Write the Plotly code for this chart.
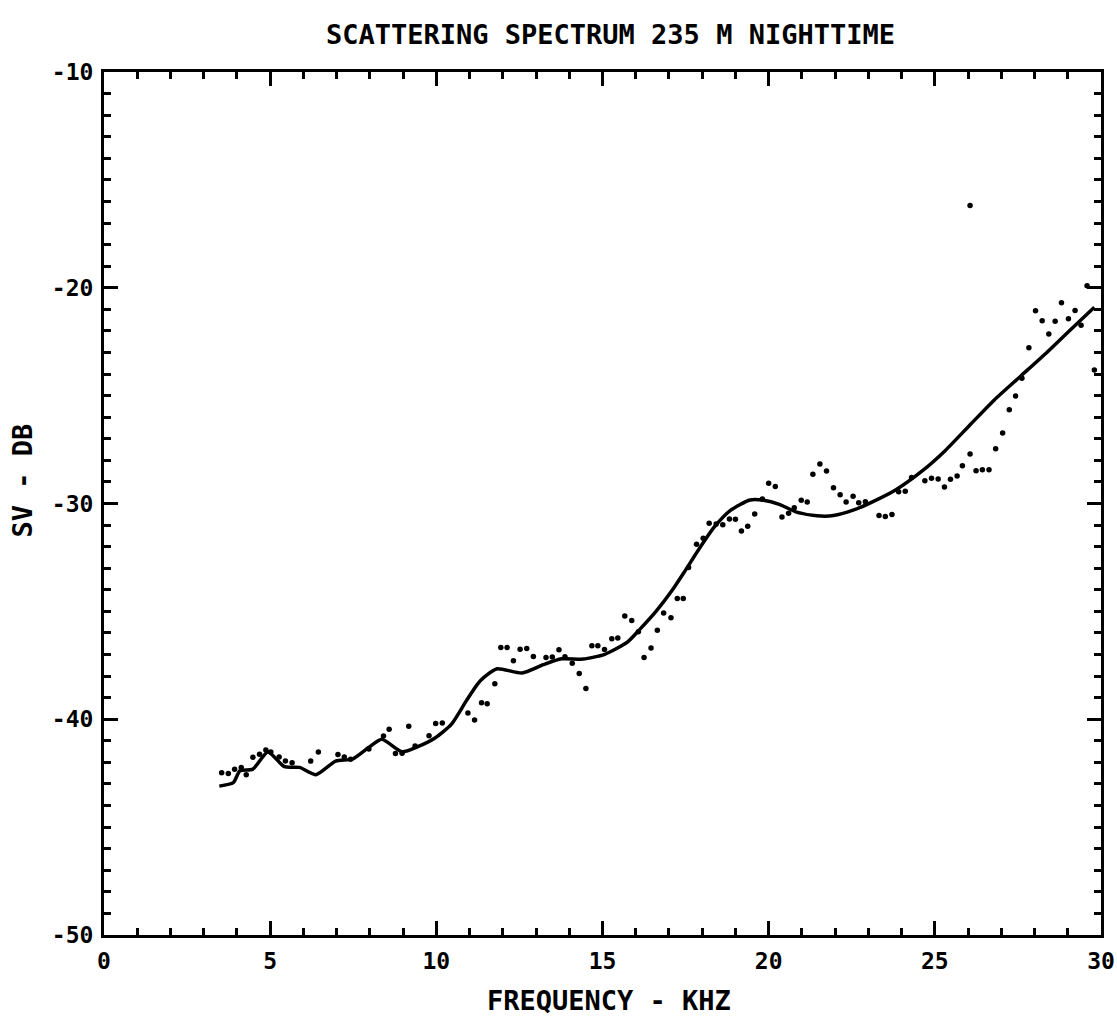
import plotly.graph_objects as go

# Smoothed scattering-strength curve (kHz, dB)
curve_khz = [3.47, 3.89, 4.09, 4.48, 4.93, 5.43, 5.88, 6.38, 6.97, 7.47, 7.97, 8.36,
             8.97, 9.46, 9.96, 10.45, 10.9, 11.24, 11.43, 11.83, 12.58, 13.22, 13.77,
             14.42, 15.05, 15.41, 15.76, 16.10, 16.61, 17.08, 17.48, 17.87, 18.36, 18.85,
             19.44, 19.84, 20.34, 20.84, 21.45, 21.95, 22.54, 23.14, 23.83, 24.62, 25.31,
             26.10, 26.79, 27.58, 28.37, 29.06, 29.8]
curve_db = [-43.10, -42.94, -42.39, -42.31, -41.52, -42.20, -42.23, -42.57, -41.94, -41.85,
            -41.30, -40.93, -41.51, -41.26, -40.87, -40.24, -39.15, -38.37, -38.06, -37.66,
            -37.86, -37.47, -37.20, -37.21, -37.00, -36.73, -36.41, -35.87, -35.00, -34.06,
            -33.13, -32.19, -31.10, -30.32, -29.84, -29.85, -30.05, -30.40, -30.57, -30.56,
            -30.31, -29.91, -29.36, -28.49, -27.55, -26.29, -25.20, -24.10, -23.00, -21.98,
            -20.90]

# Measured spectrum samples (kHz, dB)
meas_khz = [3.54, 3.74, 3.93, 4.13, 4.28, 4.48, 4.68, 4.87, 5.02, 5.27, 5.46, 5.66, 6.22,
            6.45, 7.04, 7.23, 7.42, 7.97, 8.41, 8.58, 8.77, 8.97, 9.17, 9.36, 9.78, 9.98,
            10.18, 10.95, 11.15, 11.36, 11.53, 11.76, 11.94, 12.13, 12.32, 12.52, 12.72,
            12.92, 13.30, 13.49, 13.69, 13.87, 14.09, 14.30, 14.50, 14.68, 14.86, 15.06,
            15.28, 15.46, 15.67, 15.88, 16.08, 16.25, 16.46, 16.65, 16.84, 17.06, 17.25,
            17.43, 17.59, 17.83, 18.03, 18.21, 18.42, 18.62, 18.82, 19.00, 19.18, 19.37,
            19.58, 19.81, 20.00, 20.20, 20.40, 20.60, 20.77, 20.98, 21.16, 21.33, 21.54,
            21.74, 21.95, 22.15, 22.33, 22.54, 22.71, 22.91, 23.32, 23.51, 23.71, 23.91,
            24.11, 24.30, 24.70, 24.90, 25.10, 25.29, 25.47, 25.67, 25.83, 26.06, 26.24,
            26.43, 26.63, 26.83, 27.04, 27.24, 27.43, 27.62, 27.83, 28.03, 28.23, 28.43,
            28.62, 28.81, 29.02, 29.22, 29.40, 29.58, 29.80, 26.06]
meas_db = [-42.48, -42.51, -42.32, -42.24, -42.57, -41.76, -41.62, -41.42, -41.52, -41.75,
           -41.93, -42.02, -41.94, -41.52, -41.63, -41.75, -41.85, -41.38, -40.78, -40.46,
           -41.59, -41.58, -40.32, -41.24, -40.76, -40.20, -40.17, -39.71, -40.03, -39.24,
           -39.28, -38.35, -36.68, -36.68, -37.29, -36.75, -36.72, -37.09, -37.14, -37.12,
           -36.78, -37.10, -37.41, -37.88, -38.58, -36.59, -36.59, -36.77, -36.27, -36.23,
           -35.21, -35.42, -35.94, -37.14, -36.70, -35.88, -35.07, -35.30, -34.40, -34.40,
           -32.97, -31.89, -31.61, -30.91, -30.95, -30.99, -30.72, -30.73, -31.27, -31.05,
           -30.49, -29.79, -29.06, -29.21, -30.63, -30.45, -30.20, -29.85, -29.93, -28.64,
           -28.17, -28.49, -29.27, -29.59, -29.93, -29.66, -29.97, -29.92, -30.56, -30.60,
           -30.51, -29.46, -29.43, -28.80, -28.95, -28.83, -28.86, -29.24, -28.88, -28.72,
           -28.25, -27.71, -28.48, -28.44, -28.44, -27.46, -26.73, -25.65, -25.02, -24.20,
           -22.78, -21.07, -21.53, -22.14, -21.55, -20.70, -21.44, -21.05, -21.74, -19.91,
           -23.81, -16.19]

x_ticks = [0, 5, 10, 15, 20, 25, 30]
y_ticks = [-50, -40, -30, -20, -10]

FONT = "DejaVu Sans Mono"
INK = "#000000"

fig = go.Figure()
fig.add_trace(go.Scatter(
    x=meas_khz, y=meas_db, mode="markers",
    marker=dict(color=INK, size=5.5, line=dict(width=0)),
    showlegend=False, hoverinfo="x+y",
))
fig.add_trace(go.Scatter(
    x=curve_khz, y=curve_db, mode="lines",
    line=dict(color=INK, width=3.5, shape="spline", smoothing=0.6),
    showlegend=False, hoverinfo="x+y",
))

axis_common = dict(
    showline=True, linecolor=INK, linewidth=3, mirror="allticks",
    ticks="inside", ticklen=14, tickwidth=3, tickcolor=INK,
    showgrid=False, zeroline=False, automargin=False,
    ticklabeloverflow="allow",
    tickfont=dict(family=FONT, size=23, color=INK, weight="bold"),
)

fig.update_xaxes(
    range=[0, 30], tickvals=x_ticks, ticktext=[str(v) for v in x_ticks],
    minor=dict(ticks="inside", ticklen=7, tickwidth=3, tickcolor=INK, dtick=1, showgrid=False),
    ticklabelstandoff=3,
    **axis_common,
)
fig.update_yaxes(
    range=[-50, -10], tickvals=y_ticks, ticktext=[str(v) for v in y_ticks],
    minor=dict(ticks="inside", ticklen=7, tickwidth=3, tickcolor=INK, dtick=1, showgrid=False),
    ticklabelstandoff=3,
    **axis_common,
)

label_font = dict(family=FONT, size=27, color=INK, weight="bold")
fig.add_annotation(text="SCATTERING SPECTRUM 235 M NIGHTTIME", xref="paper", yref="paper",
                   x=0.508, y=1.043, showarrow=False, font=label_font,
                   xanchor="center", yanchor="middle")
fig.add_annotation(text="FREQUENCY - KHZ", xref="paper", yref="paper",
                   x=0.507, y=-0.076, showarrow=False, font=label_font,
                   xanchor="center", yanchor="middle")
fig.add_annotation(text="SV - DB", xref="paper", yref="paper",
                   x=-0.082, y=0.527, showarrow=False, font=label_font, textangle=-90,
                   xanchor="center", yanchor="middle")

fig.update_layout(
    width=1117, height=1018,
    margin=dict(l=104, r=16, t=72, b=83),
    paper_bgcolor="white", plot_bgcolor="white",
    font=dict(family=FONT, color=INK),
)

fig.write_html("out.html")
